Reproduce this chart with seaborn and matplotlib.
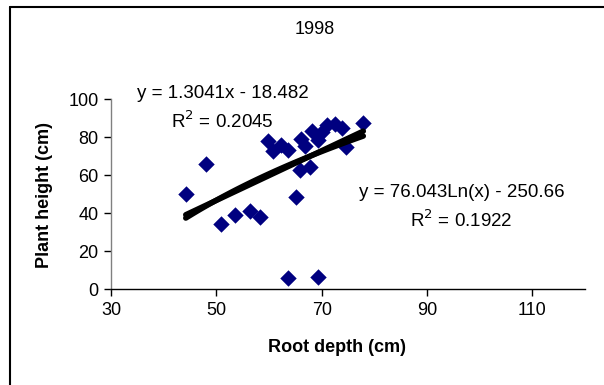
import numpy as np
import pandas as pd
import matplotlib
matplotlib.use("Agg")
import matplotlib.pyplot as plt
import seaborn as sns
from matplotlib.lines import Line2D

# Data
root_depth = [44.2, 48.1, 50.9, 53.5, 56.3, 58.2, 59.8, 60.7, 62.3, 63.7,
              63.6, 65.1, 65.8, 66.1, 66.8, 67.8, 68.1, 69.3, 69.3, 70.0,
              71.1, 72.5, 73.8, 74.6, 77.9]
plant_height = [50.1, 65.6, 34.2, 39.3, 41.3, 37.8, 77.8, 72.6, 75.6, 73.4,
                6.0, 48.6, 62.7, 79.2, 75.4, 64.2, 83.3, 6.5, 78.6, 82.5,
                86.5, 86.8, 84.8, 75.0, 87.2]

lin_slope, lin_icpt = 1.3041, -18.482
log_coef, log_icpt = 76.043, -250.66

title = "1998"
x_label = "Root depth (cm)"
y_label = "Plant height (cm)"
x_ticks = [30, 50, 70, 90, 110]
y_ticks = [0, 20, 40, 60, 80, 100]
eq_lin = ["y = 1.3041x - 18.482", "R$^2$ = 0.2045"]
eq_log = ["y = 76.043Ln(x) - 250.66", "R$^2$ = 0.1922"]

sns.set_theme(style="white")
plt.rcParams['font.family'] = ['Liberation Sans', 'DejaVu Sans']
plt.rcParams['text.color'] = 'black'
plt.rcParams['xtick.color'] = 'black'
plt.rcParams['ytick.color'] = 'black'

W, H = 604, 385
fig = plt.figure(figsize=(W / 100, H / 100), dpi=100)
ax = fig.add_axes([111 / W, 1 - 289.3 / H, (585 - 111) / W, (289.3 - 99) / H])

df = pd.DataFrame({"x": root_depth, "y": plant_height})
sns.scatterplot(data=df, x="x", y="y", marker="D", s=70, color="#000080",
                edgecolor="#000080", linewidth=0, ax=ax, zorder=3)

xs = np.linspace(min(root_depth), max(root_depth), 100)
trend = pd.DataFrame({"x": xs,
                      "lin": lin_slope * xs + lin_icpt,
                      "log": log_coef * np.log(xs) + log_icpt})
sns.lineplot(data=trend, x="x", y="lin", color="black", lw=4, ax=ax, zorder=4)
sns.lineplot(data=trend, x="x", y="log", color="black", lw=4, ax=ax, zorder=4)

ax.set_xlim(30, 120)
ax.set_ylim(0, 100)
ax.set_xticks(x_ticks)
ax.set_yticks(y_ticks)
ax.set_xticklabels([str(t) for t in x_ticks], fontsize=13, color="black")
ax.set_yticklabels([str(t) for t in y_ticks], fontsize=13, color="black")
ax.tick_params(axis="both", direction="out", length=5, width=1, color="black",
               bottom=True, left=True, pad=4)
for s in ["top", "right"]:
    ax.spines[s].set_visible(False)
for s in ["left", "bottom"]:
    ax.spines[s].set_color("black")
    ax.spines[s].set_linewidth(1)
ax.spines["left"].set_color("#808080")
ax.set_xlabel("")
ax.set_ylabel("")
ax.set_facecolor("white")

fig.text(315 / W, 1 - 30 / H, title, ha="center", va="center", fontsize=13)
fig.text(337 / W, 1 - 348 / H, x_label, ha="center", va="center",
         fontsize=13, fontweight="bold")
fig.text(45 / W, 1 - 195 / H, y_label, ha="center", va="center",
         fontsize=13, fontweight="bold", rotation=90)

fig.text(222.5 / W, 1 - 93.5 / H, eq_lin[0], ha="center", va="center", fontsize=13.5)
fig.text(222.5 / W, 1 - 121.5 / H, eq_lin[1], ha="center", va="center", fontsize=13.5)
fig.text(461.5 / W, 1 - 193 / H, eq_log[0], ha="center", va="center", fontsize=13.5)
fig.text(461.5 / W, 1 - 220 / H, eq_log[1], ha="center", va="center", fontsize=13.5)

# chart-area border (top and left visible)
fig.add_artist(Line2D([10 / W, 1.0], [1 - 7 / H, 1 - 7 / H], color="black", lw=1.5,
                      transform=fig.transFigure))
fig.add_artist(Line2D([10 / W, 10 / W], [0, 1 - 7 / H], color="black", lw=1.5,
                      transform=fig.transFigure))

fig.savefig("out.png", dpi=100, facecolor="white")
